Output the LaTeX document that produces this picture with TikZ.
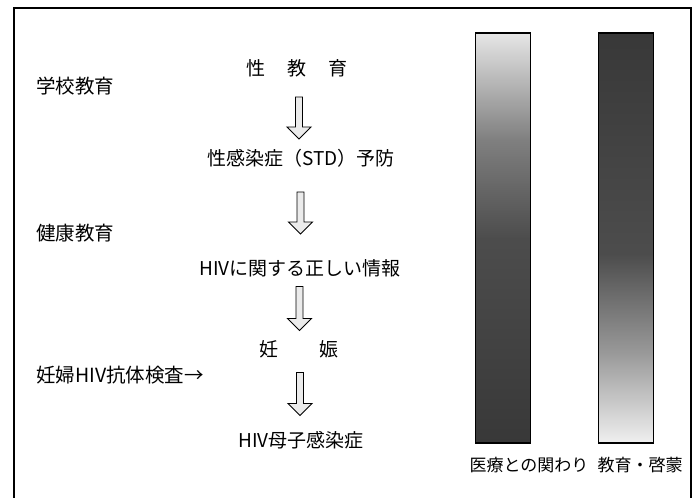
\documentclass[tikz,border=0pt]{standalone}
\usepackage{fontspec}
\setmainfont{Noto Sans CJK JP}
\usetikzlibrary{calc}
\pgfdeclareverticalshading{lightdark}{100bp}{color(0bp)=(black!78); color(25bp)=(black!78); color(50bp)=(black!70); color(62bp)=(black!50); color(75bp)=(black!10); color(100bp)=(black!10)}
\pgfdeclareverticalshading{darklight}{100bp}{color(0bp)=(black!6); color(25bp)=(black!6); color(36bp)=(black!40); color(48bp)=(black!70); color(75bp)=(black!78); color(100bp)=(black!78)}
\begin{document}
\begin{tikzpicture}[x=1pt,y=1pt,
  lbl/.style={font=\fontsize{19.5}{21}\selectfont, inner sep=0pt, anchor=west},
  flow/.style={font=\fontsize{19}{21}\selectfont, inner sep=0pt},
  barlbl/.style={font=\fontsize{17}{19}\selectfont, inner sep=0pt},
  bar/.style={draw=black, line width=1.1pt},
  blockarrow/.style={draw=black, line width=0.9pt, fill=black!8, line join=miter}]
\useasboundingbox (0,0) rectangle (697,498);
% frame
\draw[line width=1.1pt] (14,0) -- (14,490) -- (691,490) -- (691,0);
% left labels
\node[lbl] (school) at (36,412) {学校教育};
\node[lbl] (health) at (36,265) {健康教育};
\node[lbl] (test) at (36,123) {妊婦HIV抗体検査→};
% flow
\node[flow] (f1) at (297,430) {性\hspace{1.15em}教\hspace{1.15em}育};
\node[flow] (f2) at (301,340) {性感染症（STD）予防};
\node[flow] (f3) at (300,230) {HIVに関する正しい情報};
\node[flow] (f4) at (299,149) {妊\hspace{2.2em}娠};
\node[flow] (f5) at (301,58) {HIV母子感染症};
% block arrows
\draw[blockarrow] ($(f1)!0.5!(f2)$) ++(-3.5,16) -- ++(7,0) -- ++(0,-30) -- ++(8.5,0) -- ++(-12,-12) -- ++(-12,12) -- ++(8.5,0) -- cycle;
\draw[blockarrow] ($(f2)!0.5!(f3)$) ++(-3.5,21) -- ++(7,0) -- ++(0,-30) -- ++(8.5,0) -- ++(-12,-12) -- ++(-12,12) -- ++(8.5,0) -- cycle;
\draw[blockarrow] ($(f3)!0.5!(f4)$) ++(-3.5,22) -- ++(7,0) -- ++(0,-32) -- ++(8.5,0) -- ++(-12,-12) -- ++(-12,12) -- ++(8.5,0) -- cycle;
\draw[blockarrow] ($(f4)!0.5!(f5)$) ++(-3.5,22) -- ++(7,0) -- ++(0,-31) -- ++(8.5,0) -- ++(-12,-12) -- ++(-12,12) -- ++(8.5,0) -- cycle;
% bars
\node[bar, shading=lightdark, minimum width=55pt, minimum height=410pt, inner sep=0pt] (med) at (503,260) {};
\node[bar, shading=darklight, minimum width=55pt, minimum height=410pt, inner sep=0pt] (edu) at (626,260) {};
\node[barlbl] (medl) at (529,33) {医療との関わり};
\node[barlbl] (edul) at (640,33) {教育・啓蒙};
\end{tikzpicture}
\end{document}
